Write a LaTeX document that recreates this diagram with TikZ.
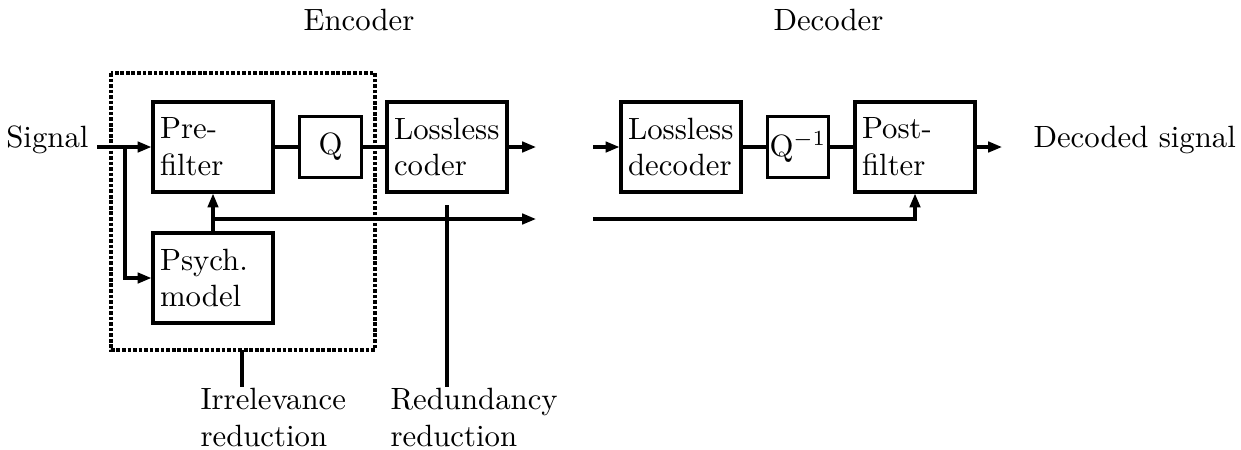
\documentclass[tikz,border=0pt]{standalone}
\usetikzlibrary{arrows.meta}
\begin{document}
\begin{tikzpicture}[x=0.325pt,y=-0.325pt,
  line width=1pt,
  blk/.style={draw,line width=1pt,minimum width=39pt,minimum height=29.25pt,text width=34.4pt,inner xsep=2.3pt,inner ysep=0pt,align=left},
  qb/.style={draw,line width=1pt,minimum width=20pt,minimum height=20pt,inner sep=0pt},
  lbl/.style={inner sep=0pt},
  arr/.style={-{Triangle[length=4.5pt,width=3.4pt]}},
  dots/.style={line width=1pt,dash pattern=on 1.2pt off 0.6pt}]
\useasboundingbox (0,0) rectangle (1241,449);
\node[lbl,anchor=base west] (enc) at (302,30) {Encoder};
\node[lbl,anchor=base west] (dec) at (772,30) {Decoder};
\node[blk] (pre) at (213,147) {Pre-\\filter};
\node[qb] (q) at (330.5,147) {Q};
\node[blk] (lc) at (447,147) {Lossless\\coder};
\node[blk] (psy) at (213,278) {Psych.\\model};
\node[blk] (ld) at (681,147) {Lossless\\decoder};
\node[qb] (qi) at (798,147) {$\mathrm{Q}^{-1}$};
\node[blk] (pf) at (915,147) {Post-\\filter};
\node[lbl,anchor=base east] (sig) at (90,147) {Signal};
\node[lbl,anchor=base west] (dsig) at (1032,147) {Decoded signal};
\node[lbl,anchor=north west,align=left] (irr) at (199,387) {Irrelevance\\reduction};
\node[lbl,anchor=north west,align=left] (red) at (389,387) {Redundancy\\reduction};
\draw[dots] (111,73) rectangle (375,350);
\coordinate (s0) at (97,147);
\coordinate (br) at (125,147);
\coordinate (e1) at (536,147);
\coordinate (e2) at (536,219);
\coordinate (d1) at (593,147);
\coordinate (d2) at (593,219);
\coordinate (m) at (213,219);
\coordinate (out) at (1002,147);
\coordinate (r0) at (447,205);
\coordinate (i0) at (242,350);
\draw[arr] (s0) -- (pre.west);
\draw[arr] (br) |- (psy.west);
\draw (pre.east) -- (q.west);
\draw (q.east) -- (lc.west);
\draw[arr] (lc.east) -- (e1);
\draw[arr] (d1) -- (ld.west);
\draw (ld.east) -- (qi.west);
\draw (qi.east) -- (pf.west);
\draw[arr] (pf.east) -- (out);
\draw[arr] (psy.north) -- (pre.south);
\draw[arr] (m) -- (e2);
\draw[arr] (d2) -| (pf.south);
\draw (r0) -- (red.north west -| r0);
\draw (i0) -- (irr.north west -| i0);
\end{tikzpicture}
\end{document}
